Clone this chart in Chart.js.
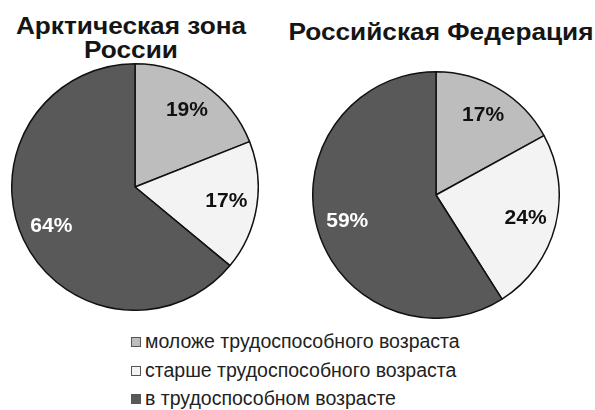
<!DOCTYPE html>
<html>
<head>
<meta charset="utf-8">
<script src="https://cdn.jsdelivr.net/npm/chart.js@4/dist/chart.umd.min.js"></script>
<style>
  body { margin: 0; background: #fff; font-family: Arial, "Liberation Sans", sans-serif; }
  #wrap { position: relative; width: 595px; height: 410px; overflow: hidden; }
  .title { position: absolute; text-align: center; font-weight: bold; font-size: 23px; line-height: 24px; color: #151515; transform: scaleX(1.14); }
  .pie { position: absolute; width: 248px; height: 248px; }
  #legend { position: absolute; left: 131px; top: 327px; font-size: 19.5px; color: #222; }
  #legend div { height: 28.5px; line-height: 28px; white-space: nowrap; }
  #legend span { display: inline-block; width: 8px; height: 8px; border: 1px solid #555; margin-right: 4px; vertical-align: 1px; }
</style>
</head>
<body>
<div id="wrap">
  <div class="title" style="left:0; top:14px; width:262px;">Арктическая зона<br>России</div>
  <div class="title" style="left:290px; top:20px; width:302px;">Российская Федерация</div>
  <div class="pie" style="left:11px; top:63px;"><canvas id="c1"></canvas></div>
  <div class="pie" style="left:312px; top:71px;"><canvas id="c2"></canvas></div>
  <div id="legend"></div>
</div>
<script>
const categories = ['моложе трудоспособного возраста', 'старше трудоспособного возраста', 'в трудоспособном возрасте'];
const arcticValues = [19, 17, 64];
const russiaValues = [17, 24, 59];
const sliceColors = ['#bdbdbd', '#f3f3f3', '#595959'];
const labelColors = ['#111', '#111', '#fff'];

// percentage labels inside slices
const sliceLabels = {
  id: 'sliceLabels',
  afterDatasetsDraw(chart) {
    const ctx = chart.ctx;
    const meta = chart.getDatasetMeta(0);
    ctx.save();
    ctx.font = 'bold 21px Arial, "Liberation Sans", sans-serif';
    ctx.textAlign = 'center';
    ctx.textBaseline = 'middle';
    meta.data.forEach((arc, i) => {
      const mid = (arc.startAngle + arc.endAngle) / 2;
      const r = arc.outerRadius * 0.75;
      const x = arc.x + Math.cos(mid) * r;
      const y = arc.y + Math.sin(mid) * r;
      ctx.fillStyle = labelColors[i];
      ctx.fillText(chart.data.datasets[0].data[i] + '%', x, y);
    });
    ctx.restore();
  }
};

function makePie(id, values) {
  return new Chart(document.getElementById(id), {
    type: 'pie',
    data: {
      labels: categories,
      datasets: [{
        data: values,
        backgroundColor: sliceColors,
        borderColor: '#111',
        borderWidth: 1.5
      }]
    },
    options: {
      responsive: true,
      maintainAspectRatio: false,
      animation: false,
      layout: { padding: 0 },
      plugins: {
        legend: { display: false },
        tooltip: { enabled: false }
      }
    },
    plugins: [sliceLabels]
  });
}

makePie('c1', arcticValues);
makePie('c2', russiaValues);

const legend = document.getElementById('legend');
categories.forEach((name, i) => {
  const row = document.createElement('div');
  const box = document.createElement('span');
  box.style.background = sliceColors[i];
  row.appendChild(box);
  row.appendChild(document.createTextNode(name));
  legend.appendChild(row);
});
</script>
</body>
</html>
